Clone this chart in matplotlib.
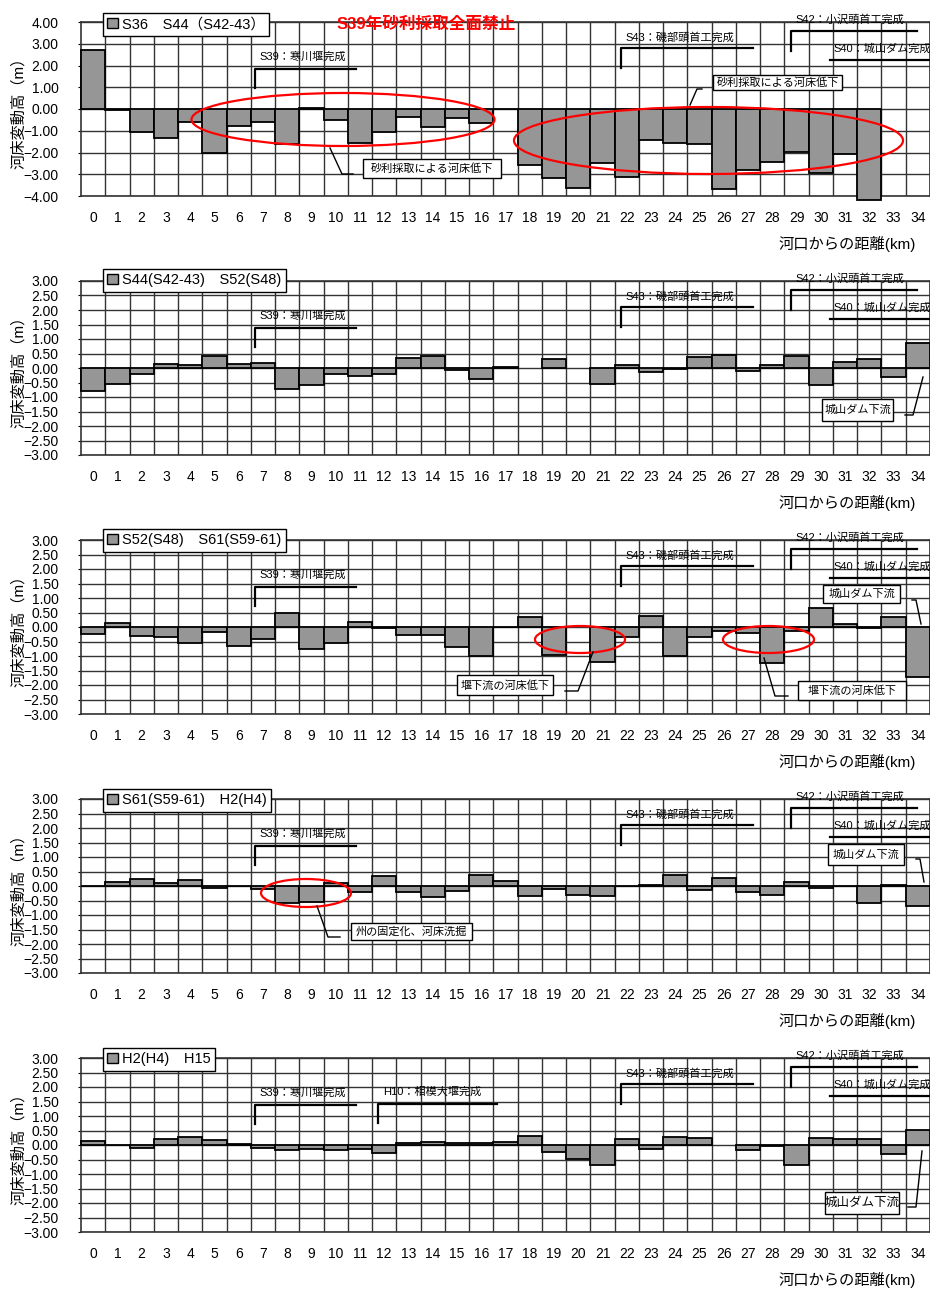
import numpy as np
import matplotlib.pyplot as plt
from matplotlib.patches import Patch, Ellipse, Rectangle
from matplotlib.lines import Line2D

plt.rcParams['font.family'] = ['Liberation Sans', 'Noto Sans CJK JP']

nan = np.nan
km = list(range(35))

# 河床変動高 (m) per km, one list per comparison period
s36_s44 = [2.71, -0.03, -1.08, -1.34, -0.58, -2.04, -0.76, -0.58, -1.60, 0.05,
           -0.50, -1.58, -1.07, -0.38, -0.81, -0.41, -0.66, 0.0, -2.58, -3.19,
           -3.61, -2.47, -3.13, -1.42, -1.55, -1.59, -3.66, -2.82, -2.44, -1.98,
           -2.96, -2.09, -4.18, nan, nan]
s44_s52 = [-0.81, -0.54, -0.21, 0.15, 0.12, 0.42, 0.13, 0.16, -0.74, -0.58,
           -0.20, -0.27, -0.22, 0.36, 0.40, -0.06, -0.39, 0.02, nan, 0.32,
           nan, -0.55, 0.12, -0.15, -0.02, 0.37, 0.45, -0.12, 0.12, 0.40,
           -0.57, 0.22, 0.32, -0.30, 0.87]
s52_s61 = [-0.23, 0.15, -0.32, -0.34, -0.54, -0.17, -0.67, -0.41, 0.48, -0.77,
           -0.56, 0.17, -0.02, -0.26, -0.28, -0.69, -1.00, 0.0, 0.33, -0.97,
           nan, -1.19, -0.36, 0.38, -1.00, -0.33, -0.15, -0.22, -1.23, -0.13,
           0.64, 0.11, -0.02, 0.34, -1.71]
s61_h2 = [0.0, 0.15, 0.24, 0.09, 0.21, -0.06, 0.01, -0.12, -0.59, -0.54,
          0.12, -0.21, 0.36, -0.20, -0.39, -0.16, 0.39, 0.18, -0.36, -0.12,
          -0.31, -0.36, 0.0, 0.05, 0.39, -0.15, 0.27, -0.20, -0.31, 0.13,
          -0.06, 0.0, -0.58, 0.03, -0.68]
h2_h15 = [0.14, -0.01, -0.10, 0.21, 0.26, 0.17, 0.02, -0.10, -0.17, -0.13,
          -0.17, -0.15, -0.26, 0.08, 0.09, 0.06, 0.06, 0.12, 0.32, -0.23,
          -0.47, -0.70, 0.22, -0.13, 0.28, 0.24, nan, -0.17, -0.04, -0.69,
          0.25, 0.22, 0.22, -0.31, 0.53]

series = [s36_s44, s44_s52, s52_s61, s61_h2, h2_h15]
legend_labels = ['S36\u3000S44（S42-43）', 'S44(S42-43)\u3000S52(S48)',
                 'S52(S48)\u3000S61(S59-61)', 'S61(S59-61)\u3000H2(H4)',
                 'H2(H4)\u3000H15']
y_limits = [(-4.0, 4.0, 1.0), (-3.0, 3.0, 0.5), (-3.0, 3.0, 0.5),
            (-3.0, 3.0, 0.5), (-3.0, 3.0, 0.5)]

BAR_COLOR = '#969696'
W, H = 930, 1289
AX_LEFT, AX_W, AX_H = 81, 849, 174
KM_PX = 24.4
panel_tops = [22, 281, 540, 799, 1058]
legend_dy = [9, 12, 11, 10, 10]

fig = plt.figure(figsize=(W / 100, H / 100), dpi=100)


def fig_line(xs, ys, color='black', lw=1.6):
    fig.add_artist(Line2D([x / W for x in xs], [1 - y / H for y in ys],
                          transform=fig.transFigure, color=color, lw=lw))


def fig_text(x, y, s, **kw):
    fig.text(x / W, 1 - y / H, s, **kw)


def ellipse(cx, cy, w, h):
    fig.add_artist(Ellipse((cx / W, 1 - cy / H), w / W, h / H,
                           transform=fig.transFigure, fill=False,
                           edgecolor='red', lw=1.6))


def callout(s, x0, x1, y0, y1, leader_x, leader_y, fs=8):
    fig.add_artist(Rectangle((x0 / W, 1 - y1 / H), (x1 - x0) / W, (y1 - y0) / H,
                             transform=fig.transFigure, facecolor='white',
                             edgecolor='black', lw=1.0))
    fig_text((x0 + x1) / 2, (y0 + y1) / 2, s, fontsize=fs, ha='center', va='center')
    fig_line(leader_x, leader_y, lw=1.0)


for i, (vals, label, (lo, hi, step), top) in enumerate(zip(series, legend_labels, y_limits, panel_tops)):
    ax = fig.add_axes([AX_LEFT / W, 1 - (top + AX_H) / H, AX_W / W, AX_H / H])
    ax.bar(km, vals, width=1.0, color=BAR_COLOR, edgecolor='black',
           linewidth=1.3, zorder=3, clip_on=False)
    ax.set_xlim(-0.5, -0.5 + AX_W / KM_PX)
    ax.set_ylim(lo, hi)
    ax.set_yticks(np.arange(lo, hi + step / 2, step))
    ax.yaxis.set_major_formatter('{x:.2f}')
    ax.set_xticks(km)
    ax.set_xticks(np.arange(0.5, 35, 1), minor=True)
    ax.grid(which='minor', axis='x', color='#333333', lw=1.0, zorder=1)
    ax.grid(which='major', axis='y', color='#333333', lw=1.0, zorder=1)
    ax.tick_params(axis='x', which='both', length=0, pad=11, labelsize=10)
    ax.tick_params(axis='y', length=2, pad=14, labelsize=10)
    for sp in ax.spines.values():
        sp.set_color('#333333')
        sp.set_linewidth(1.2)
    ax.set_ylabel('河床変動高（m）', fontsize=11)
    ax.yaxis.set_label_coords((26 - AX_LEFT) / AX_W, 0.5)
    ax.set_xlabel('河口からの距離(km)', fontsize=11, ha='right')
    ax.xaxis.set_label_coords((916 - AX_LEFT) / AX_W, -0.23)
    ax.legend(handles=[Patch(facecolor=BAR_COLOR, edgecolor='black')], labels=[label],
              loc='upper left', bbox_to_anchor=(0.026, 1 + legend_dy[i] / AX_H),
              borderaxespad=0, fancybox=False, edgecolor='black', framealpha=1,
              handlelength=0.7, handleheight=0.7, handletextpad=0.3,
              borderpad=0.3, fontsize=10.5)

    # facility completion brackets
    fig_line([255, 255, 356], [top + 66, top + 47, top + 47])
    fig_text(259, top + 35, 'S39：寒川堰完成', fontsize=8, va='center')
    fig_line([621, 621, 753], [top + 46, top + 26, top + 26])
    fig_text(625, top + 15, 'S43：磯部頭首工完成', fontsize=8, va='center')
    fig_line([791, 791, 917], [top + 29, top + 9, top + 9])
    fig_text(795, top - 3, 'S42：小沢頭首工完成', fontsize=8, va='center')
    fig_line([830, 930], [top + 38, top + 38])
    fig_text(833, top + 27, 'S40：城山ダム完成', fontsize=8, va='center')

# panel 1
fig_text(426, 24, 'S39年砂利採取全面禁止', fontsize=12, color='red',
         weight='bold', ha='center', va='center')
ellipse(343, 119.5, 303, 53)
ellipse(708.5, 140.5, 389, 67)
callout('砂利採取による河床低下', 363, 501, 159, 178, [330, 342, 353], [148, 174, 174])
callout('砂利採取による河床低下', 713, 842, 75, 90, [690, 697, 702], [105, 89, 89])

# panel 2
callout('城山ダム下流', 822, 893, 399, 421, [923, 913, 905], [377, 415, 415])

# panel 3
callout('城山ダム下流', 823, 900, 585, 603, [912, 916, 921], [600, 600, 624])
ellipse(580, 639.5, 90, 27)
ellipse(768.5, 639.5, 91, 27)
callout('堰下流の河床低下', 457, 553, 675, 695, [593, 578, 565], [652, 691, 691])
callout('堰下流の河床低下', 798, 906, 681, 700, [764, 775, 788], [658, 696, 696])

# panel 4
callout('城山ダム下流', 828, 904, 844, 865, [916, 920, 924], [859, 859, 882])
ellipse(306, 893, 90, 28)
callout('州の固定化、河床洗掘', 351, 472, 923, 940, [317, 328, 340], [906, 937, 937])

# panel 5
fig_line([378, 378, 497], [1058 + 65, 1058 + 46, 1058 + 46])
fig_text(383, 1058 + 34, 'H10：相模大堰完成', fontsize=8, va='center')
callout('城山ダム下流', 825, 899, 1192, 1214, [922, 916, 908], [1151, 1207, 1207], fs=9)

fig.savefig('out.png', dpi=100)
